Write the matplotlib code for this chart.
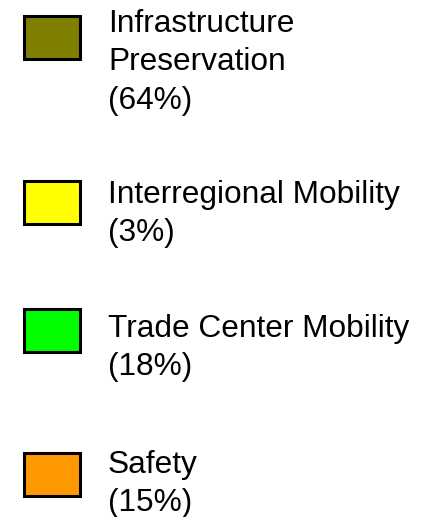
import matplotlib
matplotlib.use("Agg")
import matplotlib.pyplot as plt
from matplotlib.patches import Rectangle

labels = ["Infrastructure\nPreservation\n(64%)",
          "Interregional Mobility\n(3%)",
          "Trade Center Mobility\n(18%)",
          "Safety\n(15%)"]
colors = ["#808000", "#FFFF00", "#00FF00", "#FF9900"]

# layout in pixel units
box_tops = [15, 180, 308, 452]
text_baselines = [32, 203, 337, 473]
line_step = 38.5

fig = plt.figure(figsize=(4.28, 5.17), dpi=100)
ax = fig.add_axes([0, 0, 1, 1])
ax.set_xlim(0, 428)
ax.set_ylim(517, 0)
ax.axis("off")

for label, color, top, base in zip(labels, colors, box_tops, text_baselines):
    ax.add_patch(Rectangle((24, top + 1), 56, 43, facecolor=color,
                           edgecolor="black", linewidth=2.2))
    for i, line in enumerate(label.split("\n")):
        ax.text(108, base + i * line_step, line, fontsize=22.8,
                family="Liberation Sans", va="baseline", ha="left",
                color="black")

fig.savefig("out.png", dpi=100)
